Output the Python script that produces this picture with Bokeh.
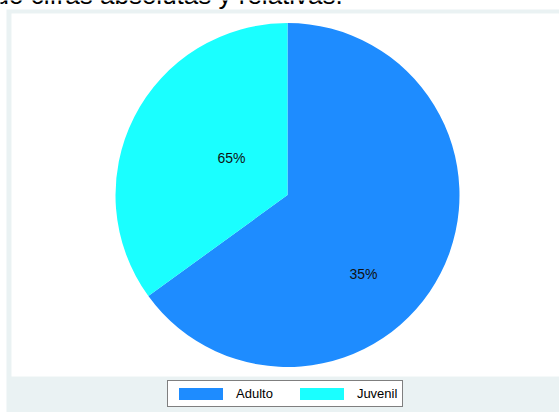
import math

from bokeh.core.properties import value
from bokeh.embed import file_html
from bokeh.models import ColumnDataSource, Legend, LegendItem, Range1d
from bokeh.plotting import figure
from bokeh.resources import INLINE

# Distribution by age group (percent of total)
groups = ["Adulto", "Juvenil"]
shares = [65, 35]
slice_labels = ["65%", "35%"]
colors = ["#1e8cff", "#1affff"]

W, H = 559, 412
FONT_NAME = "Liberation Sans"
FONT = value(FONT_NAME)

p = figure(width=W, height=H, output_backend="svg", toolbar_location=None,
           x_range=Range1d(0, W), y_range=Range1d(0, H),
           min_border=0, outline_line_color=None,
           background_fill_color="white", border_fill_color="white")
p.axis.visible = False
p.grid.visible = False


def py(y_px):
    """Convert a top-down pixel row into the bottom-up data coordinate."""
    return H - y_px


# Graph region (shaded) and inner plot region (white)
p.quad(left=[6], right=[W], bottom=[0], top=[py(9)],
       fill_color="#eaf2f3", line_color=None)
p.quad(left=[11], right=[W], bottom=[py(376)], top=[py(13)],
       fill_color="white", line_color=None)

# Caption line from the surrounding document, partly cut off at the top
p.text(x=[-6], y=[py(-6)], text=["do cifras absolutas y relativas."],
       text_font=FONT, text_font_size="26px", text_color="black",
       text_baseline="alphabetic", text_align="left")

# Pie: first slice runs clockwise from 12 o'clock, the rest fills the gap
cx, cy, r = 287, py(194.5), 172
total = float(sum(shares))
starts, ends = [], []
for i, v in enumerate(shares):
    sweep = 2 * math.pi * v / total
    if i == 0:
        starts.append(math.pi / 2 - sweep)
        ends.append(math.pi / 2)
    else:
        starts.append(math.pi / 2)
        ends.append(math.pi / 2 + sweep)

src = ColumnDataSource(dict(group=groups, share=shares, start=starts,
                            end=ends, color=colors))
wedges = p.wedge(x=cx, y=cy, radius=r, start_angle="start", end_angle="end",
                 fill_color="color", line_color=None, source=src)

# Percentage labels inside the slices
label_x = [cx - 56, cx + 76]
label_y = [cy + 37.5, cy - 78.5]
p.text(x=label_x, y=label_y, text=slice_labels, text_font=FONT,
       text_font_size="14px", text_color="#111111",
       text_align="center", text_baseline="middle")

# Legend below the pie
items = [LegendItem(label=g, renderers=[wedges], index=i)
         for i, g in enumerate(groups)]
legend = Legend(items=items, orientation="horizontal", location=(167, 5),
                glyph_width=55, glyph_height=15, label_standoff=8,
                spacing=21, padding=5, margin=0,
                label_text_font=FONT_NAME, label_text_font_size="13px",
                label_text_color="black",
                border_line_color="black", border_line_width=1,
                background_fill_color="white", background_fill_alpha=1.0)
p.add_layout(legend, "center")

open("out.html", "w").write(file_html(p, INLINE))
